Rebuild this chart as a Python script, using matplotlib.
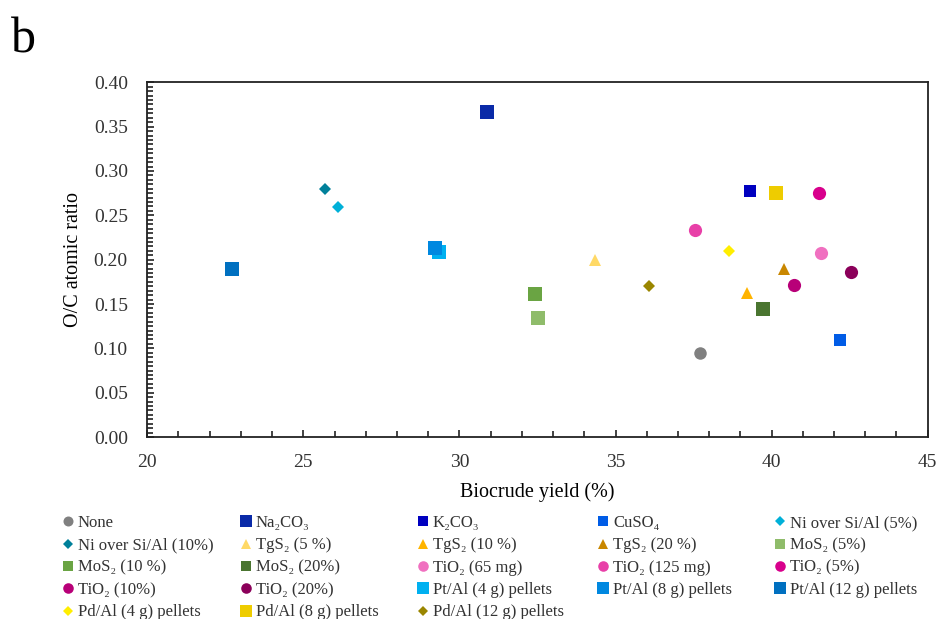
import matplotlib
matplotlib.use("Agg")
import matplotlib.pyplot as plt
from matplotlib.ticker import MultipleLocator

plt.rcParams['font.family'] = ['Liberation Serif', 'DejaVu Serif']

# catalysts: label, biocrude yield (%), O/C ratio
labels = ['None', 'Na₂CO₃', 'K₂CO₃', 'CuSO₄', 'Ni over Si/Al (5%)',
          'Ni over Si/Al (10%)', 'TgS₂ (5 %)', 'TgS₂ (10 %)', 'TgS₂ (20 %)', 'MoS₂ (5%)',
          'MoS₂ (10 %)', 'MoS₂ (20%)', 'TiO₂ (65 mg)', 'TiO₂ (125 mg)', 'TiO₂ (5%)',
          'TiO₂ (10%)', 'TiO₂ (20%)', 'Pt/Al (4 g) pellets', 'Pt/Al (8 g) pellets', 'Pt/Al (12 g) pellets',
          'Pd/Al (4 g) pellets', 'Pd/Al (8 g) pellets', 'Pd/Al (12 g) pellets']
yield_pct = [37.71, 30.88, 39.31, 42.2, 26.1,
             25.69, 34.33, 39.21, 40.4, 32.52,
             32.42, 39.73, 41.59, 37.55, 41.52,
             40.72, 42.55, 29.35, 29.22, 22.71,
             38.64, 40.14, 36.08]
oc_ratio = [0.095, 0.366, 0.277, 0.109, 0.259,
            0.280, 0.200, 0.162, 0.189, 0.134,
            0.161, 0.144, 0.207, 0.234, 0.275,
            0.171, 0.186, 0.209, 0.213, 0.189,
            0.210, 0.275, 0.170]
markers = ['o', 's', 's', 's', 'D',
           'D', '^', '^', '^', 's',
           's', 's', 'o', 'o', 'o',
           'o', 'o', 's', 's', 's',
           'D', 's', 'D']
colors = ['#808080', '#0A2AA8', '#0000C0', '#005CE6', '#00B0D8',
          '#00809A', '#FFD966', '#FFB400', '#C98700', '#8FBC6A',
          '#6AA443', '#4A7530', '#F070C0', '#E840A8', '#D8008C',
          '#B80078', '#8B005A', '#00B0F0', '#0088E0', '#0070C0',
          '#FFEE00', '#EECC00', '#9A8600']
sizes = [9, 10, 9, 9, 6.5,
         6.5, 9, 9, 9, 9.5,
         9.5, 9.5, 9.5, 9.5, 9.5,
         9.5, 9.5, 10, 10, 10,
         6.5, 10, 6.5]

fig = plt.figure(figsize=(9.38, 6.19), dpi=100)
ax = fig.add_axes([0.157, 0.294, 0.832, 0.573])

handles = []
for lab, x, y, m, c, s in zip(labels, yield_pct, oc_ratio, markers, colors, sizes):
    h, = ax.plot([x], [y], linestyle='none', marker=m, color=c, markersize=s,
                 markeredgewidth=0, label=lab)
    handles.append(h)

ax.set_xlim(20, 45)
ax.set_ylim(0, 0.40)
ax.xaxis.set_major_locator(MultipleLocator(5))
ax.xaxis.set_minor_locator(MultipleLocator(1))
ax.yaxis.set_major_locator(MultipleLocator(0.05))
ax.yaxis.set_minor_locator(MultipleLocator(0.005))
ax.yaxis.set_major_formatter(plt.FuncFormatter(lambda v, p: f'{v:.2f}'))
ax.tick_params(which='both', direction='in', top=False, right=False, labelsize=14,
               color='#222222', labelcolor='#333333')
ax.tick_params(which='major', length=5, width=1.2)
ax.tick_params(which='minor', length=4, width=1.2)
ax.tick_params(axis='x', pad=12)
ax.tick_params(axis='y', pad=14)
for sp in ax.spines.values():
    sp.set_linewidth(1.3)
    sp.set_color('#222222')

ax.set_xlabel('Biocrude yield (%)', fontsize=14.5, labelpad=8)
ax.set_ylabel('O/C atomic ratio', fontsize=14.5, labelpad=8)

fig.text(0.012, 0.915, 'b', fontsize=36)

# legend: 5 columns, filled row by row, one legend per column
ncol = 5
col_x = [63, 241, 418, 598, 775]   # left edge of each column, px
for c in range(ncol):
    idx = list(range(c, len(handles), ncol))
    fig.legend([handles[i] for i in idx], [labels[i] for i in idx],
               loc='upper left', bbox_to_anchor=(col_x[c] / 938, 0.168),
               frameon=False, fontsize=12, handlelength=0.6, handletextpad=0.3,
               labelspacing=0.38, borderaxespad=0, borderpad=0, markerscale=0.8,
               labelcolor='#333333')

fig.savefig('out.png', dpi=100)
